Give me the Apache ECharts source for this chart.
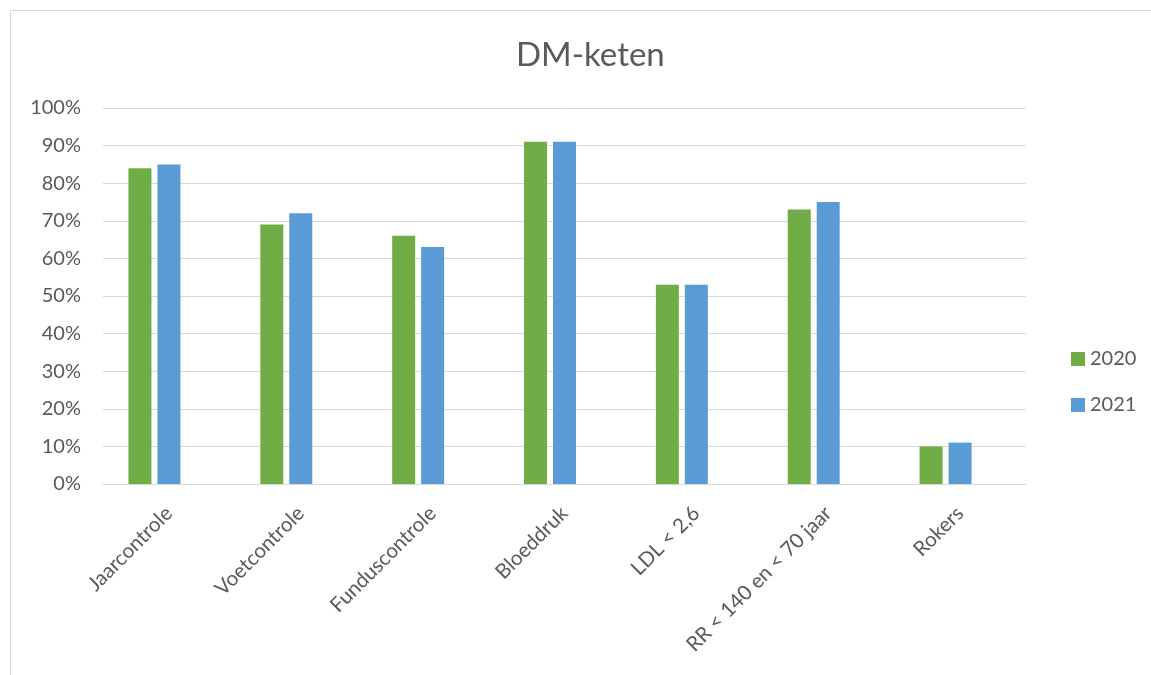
<!DOCTYPE html>
<html>
<head>
<meta charset="utf-8">
<script src="https://cdn.jsdelivr.net/npm/echarts@6/dist/echarts.min.js"></script>
<style>
  html, body { margin: 0; padding: 0; background: #fff; }
  #chart { width: 1151px; height: 675px; }
</style>
</head>
<body>
<div id="chart"></div>
<script>
// categorieen en percentages
const categories = ["Jaarcontrole", "Voetcontrole", "Funduscontrole", "Bloeddruk", "LDL < 2,6", "RR < 140 en < 70 jaar", "Rokers"]
const data2020 = [84, 69, 66, 91, 53, 73, 10]
const data2021 = [85, 72, 63, 91, 53, 75, 11]
// lege derde reeks, houdt de clusters links in de categorie (zoals in Excel)
const dataEmpty = [null, null, null, null, null, null, null]
const yTicks = [0, 10, 20, 30, 40, 50, 60, 70, 80, 90, 100]

const font = "Lato, 'Open Sans', sans-serif"
const textColor = "#595959"

let myChart = echarts.init(document.getElementById("chart"))

myChart.setOption({
  animation: false,
  textStyle: { fontFamily: font },
  title: {
    text: "DM-keten",
    left: 511,
    top: 34,
    textStyle: { fontFamily: font, fontSize: 33, fontWeight: "normal", color: textColor }
  },
  graphic: [
    {
      type: "rect",
      shape: { x: 10.5, y: 10.5, width: 1200, height: 700 },
      style: { fill: "none", stroke: "#d9d9d9", lineWidth: 1 },
      silent: true
    }
  ],
  legend: {
    data: ["2020", "2021"],
    orient: "vertical",
    left: 1066,
    top: 344,
    itemWidth: 14,
    itemHeight: 14,
    itemGap: 26,
    icon: "rect",
    textStyle: { fontFamily: font, fontSize: 20, color: textColor }
  },
  grid: {
    left: 103,
    right: 125,
    top: 108,
    bottom: 191
  },
  xAxis: {
    type: "category",
    data: categories,
    axisTick: { show: false },
    axisLine: { lineStyle: { color: "#d9d9d9", width: 1 } },
    axisLabel: {
      rotate: 45,
      interval: 0,
      margin: 26,
      fontFamily: font,
      fontSize: 20.5,
      color: textColor
    }
  },
  yAxis: {
    type: "value",
    min: yTicks[0],
    max: yTicks[yTicks.length - 1],
    interval: 10,
    axisLine: { show: false },
    axisTick: { show: false },
    splitLine: { lineStyle: { color: "#d9d9d9", width: 1 } },
    axisLabel: {
      formatter: "{value}%",
      margin: 22,
      fontFamily: font,
      fontSize: 20,
      color: textColor
    }
  },
  series: [
    {
      type: "bar",
      name: "2020",
      data: data2020,
      barWidth: 23,
      barGap: "26%",
      itemStyle: { color: "#70ad47" }
    },
    {
      type: "bar",
      name: "2021",
      data: data2021,
      barWidth: 23,
      barGap: "26%",
      itemStyle: { color: "#5b9bd5" }
    },
    {
      type: "bar",
      name: "leeg",
      data: dataEmpty,
      barWidth: 23,
      barGap: "26%",
      itemStyle: { color: "#a5a5a5" }
    }
  ]
})
</script>
</body>
</html>
